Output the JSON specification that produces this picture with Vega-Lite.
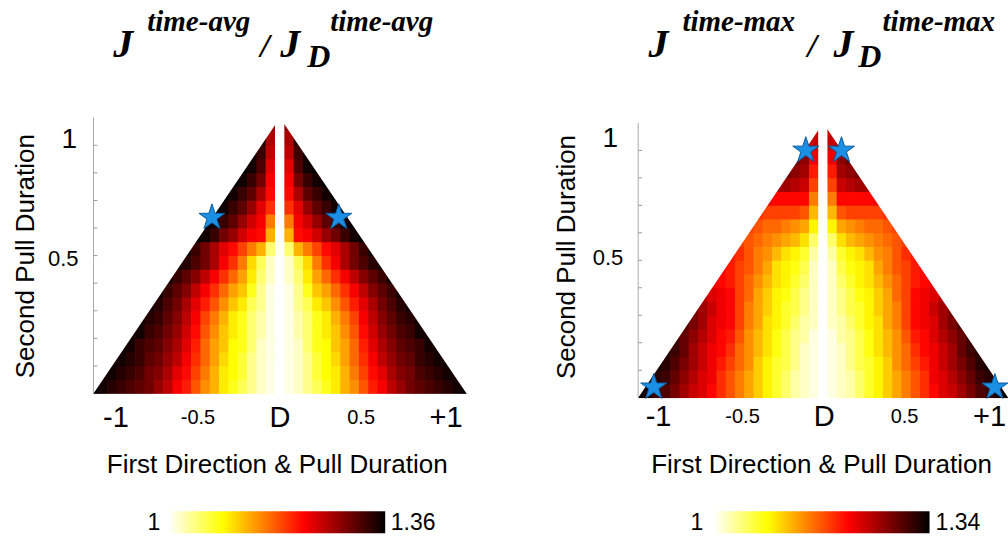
{
"$schema":"https://vega.github.io/schema/vega-lite/v6.json",
"background":"white",
"padding":{"left":12.5,"top":7.7,"right":0,"bottom":0},
"spacing":76.7,
"config":{"view":{"stroke":null},"font":"Liberation Sans","text":{"font":"Liberation Sans","color":"#000000"}},
"datasets":{
"avg":[
{"x":-1,"y":0.025,"v":1.36},{"x":-0.95,"y":0.025,"v":1.35},{"x":-0.9,"y":0.025,"v":1.34},{"x":-0.85,"y":0.025,"v":1.33},{"x":-0.8,"y":0.025,"v":1.32},{"x":-0.75,"y":0.025,"v":1.31},{"x":-0.7,"y":0.025,"v":1.3},{"x":-0.65,"y":0.025,"v":1.28},{"x":-0.6,"y":0.025,"v":1.26},{"x":-0.55,"y":0.025,"v":1.23},{"x":-0.5,"y":0.025,"v":1.21},{"x":-0.45,"y":0.025,"v":1.18},{"x":-0.4,"y":0.025,"v":1.15},{"x":-0.35,"y":0.025,"v":1.13},{"x":-0.3,"y":0.025,"v":1.1},{"x":-0.25,"y":0.025,"v":1.08},{"x":-0.2,"y":0.025,"v":1.06},{"x":-0.15,"y":0.025,"v":1.04},{"x":-0.1,"y":0.025,"v":1.02},{"x":-0.05,"y":0.025,"v":1.01},{"x":0,"y":0.025,"v":1},{"x":0.05,"y":0.025,"v":1.01},{"x":0.1,"y":0.025,"v":1.02},{"x":0.15,"y":0.025,"v":1.04},{"x":0.2,"y":0.025,"v":1.06},{"x":0.25,"y":0.025,"v":1.08},{"x":0.3,"y":0.025,"v":1.1},{"x":0.35,"y":0.025,"v":1.13},{"x":0.4,"y":0.025,"v":1.15},{"x":0.45,"y":0.025,"v":1.18},{"x":0.5,"y":0.025,"v":1.21},{"x":0.55,"y":0.025,"v":1.23},{"x":0.6,"y":0.025,"v":1.26},{"x":0.65,"y":0.025,"v":1.28},{"x":0.7,"y":0.025,"v":1.3},{"x":0.75,"y":0.025,"v":1.31},{"x":0.8,"y":0.025,"v":1.32},{"x":0.85,"y":0.025,"v":1.33},{"x":0.9,"y":0.025,"v":1.34},{"x":0.95,"y":0.025,"v":1.35},{"x":1,"y":0.025,"v":1.36},
{"x":-0.95,"y":0.075,"v":1.35},{"x":-0.9,"y":0.075,"v":1.35},{"x":-0.85,"y":0.075,"v":1.34},{"x":-0.8,"y":0.075,"v":1.33},{"x":-0.75,"y":0.075,"v":1.32},{"x":-0.7,"y":0.075,"v":1.3},{"x":-0.65,"y":0.075,"v":1.29},{"x":-0.6,"y":0.075,"v":1.27},{"x":-0.55,"y":0.075,"v":1.24},{"x":-0.5,"y":0.075,"v":1.22},{"x":-0.45,"y":0.075,"v":1.19},{"x":-0.4,"y":0.075,"v":1.16},{"x":-0.35,"y":0.075,"v":1.13},{"x":-0.3,"y":0.075,"v":1.1},{"x":-0.25,"y":0.075,"v":1.09},{"x":-0.2,"y":0.075,"v":1.07},{"x":-0.15,"y":0.075,"v":1.04},{"x":-0.1,"y":0.075,"v":1.02},{"x":-0.05,"y":0.075,"v":1.01},{"x":0,"y":0.075,"v":1},{"x":0.05,"y":0.075,"v":1.01},{"x":0.1,"y":0.075,"v":1.02},{"x":0.15,"y":0.075,"v":1.04},{"x":0.2,"y":0.075,"v":1.07},{"x":0.25,"y":0.075,"v":1.09},{"x":0.3,"y":0.075,"v":1.1},{"x":0.35,"y":0.075,"v":1.13},{"x":0.4,"y":0.075,"v":1.16},{"x":0.45,"y":0.075,"v":1.19},{"x":0.5,"y":0.075,"v":1.22},{"x":0.55,"y":0.075,"v":1.24},{"x":0.6,"y":0.075,"v":1.27},{"x":0.65,"y":0.075,"v":1.29},{"x":0.7,"y":0.075,"v":1.3},{"x":0.75,"y":0.075,"v":1.32},{"x":0.8,"y":0.075,"v":1.33},{"x":0.85,"y":0.075,"v":1.34},{"x":0.9,"y":0.075,"v":1.35},{"x":0.95,"y":0.075,"v":1.35},
{"x":-0.9,"y":0.125,"v":1.35},{"x":-0.85,"y":0.125,"v":1.35},{"x":-0.8,"y":0.125,"v":1.34},{"x":-0.75,"y":0.125,"v":1.33},{"x":-0.7,"y":0.125,"v":1.31},{"x":-0.65,"y":0.125,"v":1.3},{"x":-0.6,"y":0.125,"v":1.28},{"x":-0.55,"y":0.125,"v":1.26},{"x":-0.5,"y":0.125,"v":1.23},{"x":-0.45,"y":0.125,"v":1.2},{"x":-0.4,"y":0.125,"v":1.17},{"x":-0.35,"y":0.125,"v":1.14},{"x":-0.3,"y":0.125,"v":1.11},{"x":-0.25,"y":0.125,"v":1.09},{"x":-0.2,"y":0.125,"v":1.07},{"x":-0.15,"y":0.125,"v":1.04},{"x":-0.1,"y":0.125,"v":1.02},{"x":-0.05,"y":0.125,"v":1.01},{"x":0,"y":0.125,"v":1},{"x":0.05,"y":0.125,"v":1.01},{"x":0.1,"y":0.125,"v":1.02},{"x":0.15,"y":0.125,"v":1.04},{"x":0.2,"y":0.125,"v":1.07},{"x":0.25,"y":0.125,"v":1.09},{"x":0.3,"y":0.125,"v":1.11},{"x":0.35,"y":0.125,"v":1.14},{"x":0.4,"y":0.125,"v":1.17},{"x":0.45,"y":0.125,"v":1.2},{"x":0.5,"y":0.125,"v":1.23},{"x":0.55,"y":0.125,"v":1.26},{"x":0.6,"y":0.125,"v":1.28},{"x":0.65,"y":0.125,"v":1.3},{"x":0.7,"y":0.125,"v":1.31},{"x":0.75,"y":0.125,"v":1.33},{"x":0.8,"y":0.125,"v":1.34},{"x":0.85,"y":0.125,"v":1.35},{"x":0.9,"y":0.125,"v":1.35},
{"x":-0.85,"y":0.175,"v":1.35},{"x":-0.8,"y":0.175,"v":1.35},{"x":-0.75,"y":0.175,"v":1.33},{"x":-0.7,"y":0.175,"v":1.32},{"x":-0.65,"y":0.175,"v":1.31},{"x":-0.6,"y":0.175,"v":1.29},{"x":-0.55,"y":0.175,"v":1.27},{"x":-0.5,"y":0.175,"v":1.24},{"x":-0.45,"y":0.175,"v":1.21},{"x":-0.4,"y":0.175,"v":1.17},{"x":-0.35,"y":0.175,"v":1.14},{"x":-0.3,"y":0.175,"v":1.12},{"x":-0.25,"y":0.175,"v":1.09},{"x":-0.2,"y":0.175,"v":1.08},{"x":-0.15,"y":0.175,"v":1.05},{"x":-0.1,"y":0.175,"v":1.02},{"x":-0.05,"y":0.175,"v":1.01},{"x":0,"y":0.175,"v":1},{"x":0.05,"y":0.175,"v":1.01},{"x":0.1,"y":0.175,"v":1.02},{"x":0.15,"y":0.175,"v":1.05},{"x":0.2,"y":0.175,"v":1.08},{"x":0.25,"y":0.175,"v":1.09},{"x":0.3,"y":0.175,"v":1.12},{"x":0.35,"y":0.175,"v":1.14},{"x":0.4,"y":0.175,"v":1.17},{"x":0.45,"y":0.175,"v":1.21},{"x":0.5,"y":0.175,"v":1.24},{"x":0.55,"y":0.175,"v":1.27},{"x":0.6,"y":0.175,"v":1.29},{"x":0.65,"y":0.175,"v":1.31},{"x":0.7,"y":0.175,"v":1.32},{"x":0.75,"y":0.175,"v":1.33},{"x":0.8,"y":0.175,"v":1.35},{"x":0.85,"y":0.175,"v":1.35},
{"x":-0.8,"y":0.225,"v":1.35},{"x":-0.75,"y":0.225,"v":1.35},{"x":-0.7,"y":0.225,"v":1.33},{"x":-0.65,"y":0.225,"v":1.32},{"x":-0.6,"y":0.225,"v":1.3},{"x":-0.55,"y":0.225,"v":1.28},{"x":-0.5,"y":0.225,"v":1.25},{"x":-0.45,"y":0.225,"v":1.22},{"x":-0.4,"y":0.225,"v":1.18},{"x":-0.35,"y":0.225,"v":1.15},{"x":-0.3,"y":0.225,"v":1.12},{"x":-0.25,"y":0.225,"v":1.1},{"x":-0.2,"y":0.225,"v":1.08},{"x":-0.15,"y":0.225,"v":1.05},{"x":-0.1,"y":0.225,"v":1.03},{"x":-0.05,"y":0.225,"v":1.01},{"x":0,"y":0.225,"v":1},{"x":0.05,"y":0.225,"v":1.01},{"x":0.1,"y":0.225,"v":1.03},{"x":0.15,"y":0.225,"v":1.05},{"x":0.2,"y":0.225,"v":1.08},{"x":0.25,"y":0.225,"v":1.1},{"x":0.3,"y":0.225,"v":1.12},{"x":0.35,"y":0.225,"v":1.15},{"x":0.4,"y":0.225,"v":1.18},{"x":0.45,"y":0.225,"v":1.22},{"x":0.5,"y":0.225,"v":1.25},{"x":0.55,"y":0.225,"v":1.28},{"x":0.6,"y":0.225,"v":1.3},{"x":0.65,"y":0.225,"v":1.32},{"x":0.7,"y":0.225,"v":1.33},{"x":0.75,"y":0.225,"v":1.35},{"x":0.8,"y":0.225,"v":1.35},
{"x":-0.75,"y":0.275,"v":1.35},{"x":-0.7,"y":0.275,"v":1.34},{"x":-0.65,"y":0.275,"v":1.33},{"x":-0.6,"y":0.275,"v":1.31},{"x":-0.55,"y":0.275,"v":1.29},{"x":-0.5,"y":0.275,"v":1.26},{"x":-0.45,"y":0.275,"v":1.23},{"x":-0.4,"y":0.275,"v":1.19},{"x":-0.35,"y":0.275,"v":1.16},{"x":-0.3,"y":0.275,"v":1.13},{"x":-0.25,"y":0.275,"v":1.1},{"x":-0.2,"y":0.275,"v":1.08},{"x":-0.15,"y":0.275,"v":1.05},{"x":-0.1,"y":0.275,"v":1.03},{"x":-0.05,"y":0.275,"v":1.01},{"x":0,"y":0.275,"v":1},{"x":0.05,"y":0.275,"v":1.01},{"x":0.1,"y":0.275,"v":1.03},{"x":0.15,"y":0.275,"v":1.05},{"x":0.2,"y":0.275,"v":1.08},{"x":0.25,"y":0.275,"v":1.1},{"x":0.3,"y":0.275,"v":1.13},{"x":0.35,"y":0.275,"v":1.16},{"x":0.4,"y":0.275,"v":1.19},{"x":0.45,"y":0.275,"v":1.23},{"x":0.5,"y":0.275,"v":1.26},{"x":0.55,"y":0.275,"v":1.29},{"x":0.6,"y":0.275,"v":1.31},{"x":0.65,"y":0.275,"v":1.33},{"x":0.7,"y":0.275,"v":1.34},{"x":0.75,"y":0.275,"v":1.35},
{"x":-0.7,"y":0.325,"v":1.35},{"x":-0.65,"y":0.325,"v":1.34},{"x":-0.6,"y":0.325,"v":1.32},{"x":-0.55,"y":0.325,"v":1.3},{"x":-0.5,"y":0.325,"v":1.27},{"x":-0.45,"y":0.325,"v":1.24},{"x":-0.4,"y":0.325,"v":1.21},{"x":-0.35,"y":0.325,"v":1.18},{"x":-0.3,"y":0.325,"v":1.15},{"x":-0.25,"y":0.325,"v":1.12},{"x":-0.2,"y":0.325,"v":1.1},{"x":-0.15,"y":0.325,"v":1.06},{"x":-0.1,"y":0.325,"v":1.04},{"x":-0.05,"y":0.325,"v":1.01},{"x":0,"y":0.325,"v":1},{"x":0.05,"y":0.325,"v":1.01},{"x":0.1,"y":0.325,"v":1.04},{"x":0.15,"y":0.325,"v":1.06},{"x":0.2,"y":0.325,"v":1.1},{"x":0.25,"y":0.325,"v":1.12},{"x":0.3,"y":0.325,"v":1.15},{"x":0.35,"y":0.325,"v":1.18},{"x":0.4,"y":0.325,"v":1.21},{"x":0.45,"y":0.325,"v":1.24},{"x":0.5,"y":0.325,"v":1.27},{"x":0.55,"y":0.325,"v":1.3},{"x":0.6,"y":0.325,"v":1.32},{"x":0.65,"y":0.325,"v":1.34},{"x":0.7,"y":0.325,"v":1.35},
{"x":-0.65,"y":0.375,"v":1.35},{"x":-0.6,"y":0.375,"v":1.33},{"x":-0.55,"y":0.375,"v":1.31},{"x":-0.5,"y":0.375,"v":1.29},{"x":-0.45,"y":0.375,"v":1.26},{"x":-0.4,"y":0.375,"v":1.23},{"x":-0.35,"y":0.375,"v":1.2},{"x":-0.3,"y":0.375,"v":1.17},{"x":-0.25,"y":0.375,"v":1.14},{"x":-0.2,"y":0.375,"v":1.12},{"x":-0.15,"y":0.375,"v":1.08},{"x":-0.1,"y":0.375,"v":1.04},{"x":-0.05,"y":0.375,"v":1.01},{"x":0,"y":0.375,"v":1},{"x":0.05,"y":0.375,"v":1.01},{"x":0.1,"y":0.375,"v":1.04},{"x":0.15,"y":0.375,"v":1.08},{"x":0.2,"y":0.375,"v":1.12},{"x":0.25,"y":0.375,"v":1.14},{"x":0.3,"y":0.375,"v":1.17},{"x":0.35,"y":0.375,"v":1.2},{"x":0.4,"y":0.375,"v":1.23},{"x":0.45,"y":0.375,"v":1.26},{"x":0.5,"y":0.375,"v":1.29},{"x":0.55,"y":0.375,"v":1.31},{"x":0.6,"y":0.375,"v":1.33},{"x":0.65,"y":0.375,"v":1.35},
{"x":-0.6,"y":0.425,"v":1.35},{"x":-0.55,"y":0.425,"v":1.33},{"x":-0.5,"y":0.425,"v":1.31},{"x":-0.45,"y":0.425,"v":1.29},{"x":-0.4,"y":0.425,"v":1.26},{"x":-0.35,"y":0.425,"v":1.23},{"x":-0.3,"y":0.425,"v":1.2},{"x":-0.25,"y":0.425,"v":1.17},{"x":-0.2,"y":0.425,"v":1.14},{"x":-0.15,"y":0.425,"v":1.1},{"x":-0.1,"y":0.425,"v":1.05},{"x":-0.05,"y":0.425,"v":1.02},{"x":0,"y":0.425,"v":1},{"x":0.05,"y":0.425,"v":1.02},{"x":0.1,"y":0.425,"v":1.05},{"x":0.15,"y":0.425,"v":1.1},{"x":0.2,"y":0.425,"v":1.14},{"x":0.25,"y":0.425,"v":1.17},{"x":0.3,"y":0.425,"v":1.2},{"x":0.35,"y":0.425,"v":1.23},{"x":0.4,"y":0.425,"v":1.26},{"x":0.45,"y":0.425,"v":1.29},{"x":0.5,"y":0.425,"v":1.31},{"x":0.55,"y":0.425,"v":1.33},{"x":0.6,"y":0.425,"v":1.35},
{"x":-0.55,"y":0.475,"v":1.35},{"x":-0.5,"y":0.475,"v":1.34},{"x":-0.45,"y":0.475,"v":1.32},{"x":-0.4,"y":0.475,"v":1.3},{"x":-0.35,"y":0.475,"v":1.27},{"x":-0.3,"y":0.475,"v":1.23},{"x":-0.25,"y":0.475,"v":1.2},{"x":-0.2,"y":0.475,"v":1.16},{"x":-0.15,"y":0.475,"v":1.11},{"x":-0.1,"y":0.475,"v":1.06},{"x":-0.05,"y":0.475,"v":1.02},{"x":0,"y":0.475,"v":1},{"x":0.05,"y":0.475,"v":1.02},{"x":0.1,"y":0.475,"v":1.06},{"x":0.15,"y":0.475,"v":1.11},{"x":0.2,"y":0.475,"v":1.16},{"x":0.25,"y":0.475,"v":1.2},{"x":0.3,"y":0.475,"v":1.23},{"x":0.35,"y":0.475,"v":1.27},{"x":0.4,"y":0.475,"v":1.3},{"x":0.45,"y":0.475,"v":1.32},{"x":0.5,"y":0.475,"v":1.34},{"x":0.55,"y":0.475,"v":1.35},
{"x":-0.5,"y":0.525,"v":1.35},{"x":-0.45,"y":0.525,"v":1.33},{"x":-0.4,"y":0.525,"v":1.3},{"x":-0.35,"y":0.525,"v":1.27},{"x":-0.3,"y":0.525,"v":1.24},{"x":-0.25,"y":0.525,"v":1.22},{"x":-0.2,"y":0.525,"v":1.19},{"x":-0.15,"y":0.525,"v":1.16},{"x":-0.1,"y":0.525,"v":1.13},{"x":-0.05,"y":0.525,"v":1.05},{"x":0,"y":0.525,"v":1},{"x":0.05,"y":0.525,"v":1.05},{"x":0.1,"y":0.525,"v":1.13},{"x":0.15,"y":0.525,"v":1.16},{"x":0.2,"y":0.525,"v":1.19},{"x":0.25,"y":0.525,"v":1.22},{"x":0.3,"y":0.525,"v":1.24},{"x":0.35,"y":0.525,"v":1.27},{"x":0.4,"y":0.525,"v":1.3},{"x":0.45,"y":0.525,"v":1.33},{"x":0.5,"y":0.525,"v":1.35},
{"x":-0.45,"y":0.575,"v":1.36},{"x":-0.4,"y":0.575,"v":1.35},{"x":-0.35,"y":0.575,"v":1.33},{"x":-0.3,"y":0.575,"v":1.3},{"x":-0.25,"y":0.575,"v":1.28},{"x":-0.2,"y":0.575,"v":1.25},{"x":-0.15,"y":0.575,"v":1.23},{"x":-0.1,"y":0.575,"v":1.22},{"x":-0.05,"y":0.575,"v":1.13},{"x":0,"y":0.575,"v":1},{"x":0.05,"y":0.575,"v":1.13},{"x":0.1,"y":0.575,"v":1.22},{"x":0.15,"y":0.575,"v":1.23},{"x":0.2,"y":0.575,"v":1.25},{"x":0.25,"y":0.575,"v":1.28},{"x":0.3,"y":0.575,"v":1.3},{"x":0.35,"y":0.575,"v":1.33},{"x":0.4,"y":0.575,"v":1.35},{"x":0.45,"y":0.575,"v":1.36},
{"x":-0.4,"y":0.625,"v":1.36},{"x":-0.35,"y":0.625,"v":1.35},{"x":-0.3,"y":0.625,"v":1.33},{"x":-0.25,"y":0.625,"v":1.31},{"x":-0.2,"y":0.625,"v":1.28},{"x":-0.15,"y":0.625,"v":1.25},{"x":-0.1,"y":0.625,"v":1.23},{"x":-0.05,"y":0.625,"v":1.16},{"x":0,"y":0.625,"v":1},{"x":0.05,"y":0.625,"v":1.16},{"x":0.1,"y":0.625,"v":1.23},{"x":0.15,"y":0.625,"v":1.25},{"x":0.2,"y":0.625,"v":1.28},{"x":0.25,"y":0.625,"v":1.31},{"x":0.3,"y":0.625,"v":1.33},{"x":0.35,"y":0.625,"v":1.35},{"x":0.4,"y":0.625,"v":1.36},
{"x":-0.35,"y":0.675,"v":1.36},{"x":-0.3,"y":0.675,"v":1.35},{"x":-0.25,"y":0.675,"v":1.33},{"x":-0.2,"y":0.675,"v":1.31},{"x":-0.15,"y":0.675,"v":1.28},{"x":-0.1,"y":0.675,"v":1.24},{"x":-0.05,"y":0.675,"v":1.2},{"x":0,"y":0.675,"v":1},{"x":0.05,"y":0.675,"v":1.2},{"x":0.1,"y":0.675,"v":1.24},{"x":0.15,"y":0.675,"v":1.28},{"x":0.2,"y":0.675,"v":1.31},{"x":0.25,"y":0.675,"v":1.33},{"x":0.3,"y":0.675,"v":1.35},{"x":0.35,"y":0.675,"v":1.36},
{"x":-0.3,"y":0.725,"v":1.36},{"x":-0.25,"y":0.725,"v":1.35},{"x":-0.2,"y":0.725,"v":1.33},{"x":-0.15,"y":0.725,"v":1.31},{"x":-0.1,"y":0.725,"v":1.27},{"x":-0.05,"y":0.725,"v":1.22},{"x":0,"y":0.725,"v":1},{"x":0.05,"y":0.725,"v":1.22},{"x":0.1,"y":0.725,"v":1.27},{"x":0.15,"y":0.725,"v":1.31},{"x":0.2,"y":0.725,"v":1.33},{"x":0.25,"y":0.725,"v":1.35},{"x":0.3,"y":0.725,"v":1.36},
{"x":-0.25,"y":0.775,"v":1.36},{"x":-0.2,"y":0.775,"v":1.35},{"x":-0.15,"y":0.775,"v":1.33},{"x":-0.1,"y":0.775,"v":1.3},{"x":-0.05,"y":0.775,"v":1.23},{"x":0,"y":0.775,"v":1},{"x":0.05,"y":0.775,"v":1.23},{"x":0.1,"y":0.775,"v":1.3},{"x":0.15,"y":0.775,"v":1.33},{"x":0.2,"y":0.775,"v":1.35},{"x":0.25,"y":0.775,"v":1.36},
{"x":-0.2,"y":0.825,"v":1.36},{"x":-0.15,"y":0.825,"v":1.35},{"x":-0.1,"y":0.825,"v":1.32},{"x":-0.05,"y":0.825,"v":1.24},{"x":0,"y":0.825,"v":1},{"x":0.05,"y":0.825,"v":1.24},{"x":0.1,"y":0.825,"v":1.32},{"x":0.15,"y":0.825,"v":1.35},{"x":0.2,"y":0.825,"v":1.36},
{"x":-0.15,"y":0.875,"v":1.35},{"x":-0.1,"y":0.875,"v":1.33},{"x":-0.05,"y":0.875,"v":1.26},{"x":0,"y":0.875,"v":1},{"x":0.05,"y":0.875,"v":1.26},{"x":0.1,"y":0.875,"v":1.33},{"x":0.15,"y":0.875,"v":1.35},
{"x":-0.1,"y":0.925,"v":1.34},{"x":-0.05,"y":0.925,"v":1.27},{"x":0,"y":0.925,"v":1},{"x":0.05,"y":0.925,"v":1.27},{"x":0.1,"y":0.925,"v":1.34},
{"x":-0.05,"y":0.975,"v":1.28},{"x":0,"y":0.975,"v":1},{"x":0.05,"y":0.975,"v":1.28}
],
"tmax":[
{"x":-1,"y":0.025,"v":1.34},{"x":-0.95,"y":0.025,"v":1.33},{"x":-0.9,"y":0.025,"v":1.31},{"x":-0.85,"y":0.025,"v":1.3},{"x":-0.8,"y":0.025,"v":1.28},{"x":-0.75,"y":0.025,"v":1.26},{"x":-0.7,"y":0.025,"v":1.24},{"x":-0.65,"y":0.025,"v":1.23},{"x":-0.6,"y":0.025,"v":1.21},{"x":-0.55,"y":0.025,"v":1.19},{"x":-0.5,"y":0.025,"v":1.17},{"x":-0.45,"y":0.025,"v":1.15},{"x":-0.4,"y":0.025,"v":1.13},{"x":-0.35,"y":0.025,"v":1.11},{"x":-0.3,"y":0.025,"v":1.09},{"x":-0.25,"y":0.025,"v":1.07},{"x":-0.2,"y":0.025,"v":1.05},{"x":-0.15,"y":0.025,"v":1.03},{"x":-0.1,"y":0.025,"v":1.02},{"x":-0.05,"y":0.025,"v":1.01},{"x":0,"y":0.025,"v":1},{"x":0.05,"y":0.025,"v":1.01},{"x":0.1,"y":0.025,"v":1.02},{"x":0.15,"y":0.025,"v":1.03},{"x":0.2,"y":0.025,"v":1.05},{"x":0.25,"y":0.025,"v":1.07},{"x":0.3,"y":0.025,"v":1.09},{"x":0.35,"y":0.025,"v":1.11},{"x":0.4,"y":0.025,"v":1.13},{"x":0.45,"y":0.025,"v":1.15},{"x":0.5,"y":0.025,"v":1.17},{"x":0.55,"y":0.025,"v":1.19},{"x":0.6,"y":0.025,"v":1.21},{"x":0.65,"y":0.025,"v":1.23},{"x":0.7,"y":0.025,"v":1.24},{"x":0.75,"y":0.025,"v":1.26},{"x":0.8,"y":0.025,"v":1.28},{"x":0.85,"y":0.025,"v":1.3},{"x":0.9,"y":0.025,"v":1.31},{"x":0.95,"y":0.025,"v":1.33},{"x":1,"y":0.025,"v":1.34},
{"x":-0.95,"y":0.075,"v":1.33},{"x":-0.9,"y":0.075,"v":1.32},{"x":-0.85,"y":0.075,"v":1.31},{"x":-0.8,"y":0.075,"v":1.29},{"x":-0.75,"y":0.075,"v":1.27},{"x":-0.7,"y":0.075,"v":1.25},{"x":-0.65,"y":0.075,"v":1.23},{"x":-0.6,"y":0.075,"v":1.22},{"x":-0.55,"y":0.075,"v":1.19},{"x":-0.5,"y":0.075,"v":1.17},{"x":-0.45,"y":0.075,"v":1.15},{"x":-0.4,"y":0.075,"v":1.13},{"x":-0.35,"y":0.075,"v":1.11},{"x":-0.3,"y":0.075,"v":1.09},{"x":-0.25,"y":0.075,"v":1.07},{"x":-0.2,"y":0.075,"v":1.05},{"x":-0.15,"y":0.075,"v":1.03},{"x":-0.1,"y":0.075,"v":1.02},{"x":-0.05,"y":0.075,"v":1.01},{"x":0,"y":0.075,"v":1},{"x":0.05,"y":0.075,"v":1.01},{"x":0.1,"y":0.075,"v":1.02},{"x":0.15,"y":0.075,"v":1.03},{"x":0.2,"y":0.075,"v":1.05},{"x":0.25,"y":0.075,"v":1.07},{"x":0.3,"y":0.075,"v":1.09},{"x":0.35,"y":0.075,"v":1.11},{"x":0.4,"y":0.075,"v":1.13},{"x":0.45,"y":0.075,"v":1.15},{"x":0.5,"y":0.075,"v":1.17},{"x":0.55,"y":0.075,"v":1.19},{"x":0.6,"y":0.075,"v":1.22},{"x":0.65,"y":0.075,"v":1.23},{"x":0.7,"y":0.075,"v":1.25},{"x":0.75,"y":0.075,"v":1.27},{"x":0.8,"y":0.075,"v":1.29},{"x":0.85,"y":0.075,"v":1.31},{"x":0.9,"y":0.075,"v":1.32},{"x":0.95,"y":0.075,"v":1.33},
{"x":-0.9,"y":0.125,"v":1.33},{"x":-0.85,"y":0.125,"v":1.32},{"x":-0.8,"y":0.125,"v":1.3},{"x":-0.75,"y":0.125,"v":1.28},{"x":-0.7,"y":0.125,"v":1.26},{"x":-0.65,"y":0.125,"v":1.24},{"x":-0.6,"y":0.125,"v":1.22},{"x":-0.55,"y":0.125,"v":1.2},{"x":-0.5,"y":0.125,"v":1.18},{"x":-0.45,"y":0.125,"v":1.16},{"x":-0.4,"y":0.125,"v":1.14},{"x":-0.35,"y":0.125,"v":1.11},{"x":-0.3,"y":0.125,"v":1.09},{"x":-0.25,"y":0.125,"v":1.07},{"x":-0.2,"y":0.125,"v":1.06},{"x":-0.15,"y":0.125,"v":1.04},{"x":-0.1,"y":0.125,"v":1.02},{"x":-0.05,"y":0.125,"v":1.01},{"x":0,"y":0.125,"v":1},{"x":0.05,"y":0.125,"v":1.01},{"x":0.1,"y":0.125,"v":1.02},{"x":0.15,"y":0.125,"v":1.04},{"x":0.2,"y":0.125,"v":1.06},{"x":0.25,"y":0.125,"v":1.07},{"x":0.3,"y":0.125,"v":1.09},{"x":0.35,"y":0.125,"v":1.11},{"x":0.4,"y":0.125,"v":1.14},{"x":0.45,"y":0.125,"v":1.16},{"x":0.5,"y":0.125,"v":1.18},{"x":0.55,"y":0.125,"v":1.2},{"x":0.6,"y":0.125,"v":1.22},{"x":0.65,"y":0.125,"v":1.24},{"x":0.7,"y":0.125,"v":1.26},{"x":0.75,"y":0.125,"v":1.28},{"x":0.8,"y":0.125,"v":1.3},{"x":0.85,"y":0.125,"v":1.32},{"x":0.9,"y":0.125,"v":1.33},
{"x":-0.85,"y":0.175,"v":1.32},{"x":-0.8,"y":0.175,"v":1.31},{"x":-0.75,"y":0.175,"v":1.29},{"x":-0.7,"y":0.175,"v":1.26},{"x":-0.65,"y":0.175,"v":1.24},{"x":-0.6,"y":0.175,"v":1.22},{"x":-0.55,"y":0.175,"v":1.21},{"x":-0.5,"y":0.175,"v":1.19},{"x":-0.45,"y":0.175,"v":1.16},{"x":-0.4,"y":0.175,"v":1.14},{"x":-0.35,"y":0.175,"v":1.12},{"x":-0.3,"y":0.175,"v":1.1},{"x":-0.25,"y":0.175,"v":1.08},{"x":-0.2,"y":0.175,"v":1.06},{"x":-0.15,"y":0.175,"v":1.04},{"x":-0.1,"y":0.175,"v":1.02},{"x":-0.05,"y":0.175,"v":1.01},{"x":0,"y":0.175,"v":1},{"x":0.05,"y":0.175,"v":1.01},{"x":0.1,"y":0.175,"v":1.02},{"x":0.15,"y":0.175,"v":1.04},{"x":0.2,"y":0.175,"v":1.06},{"x":0.25,"y":0.175,"v":1.08},{"x":0.3,"y":0.175,"v":1.1},{"x":0.35,"y":0.175,"v":1.12},{"x":0.4,"y":0.175,"v":1.14},{"x":0.45,"y":0.175,"v":1.16},{"x":0.5,"y":0.175,"v":1.19},{"x":0.55,"y":0.175,"v":1.21},{"x":0.6,"y":0.175,"v":1.22},{"x":0.65,"y":0.175,"v":1.24},{"x":0.7,"y":0.175,"v":1.26},{"x":0.75,"y":0.175,"v":1.29},{"x":0.8,"y":0.175,"v":1.31},{"x":0.85,"y":0.175,"v":1.32},
{"x":-0.8,"y":0.225,"v":1.31},{"x":-0.75,"y":0.225,"v":1.29},{"x":-0.7,"y":0.225,"v":1.27},{"x":-0.65,"y":0.225,"v":1.25},{"x":-0.6,"y":0.225,"v":1.23},{"x":-0.55,"y":0.225,"v":1.21},{"x":-0.5,"y":0.225,"v":1.2},{"x":-0.45,"y":0.225,"v":1.17},{"x":-0.4,"y":0.225,"v":1.14},{"x":-0.35,"y":0.225,"v":1.12},{"x":-0.3,"y":0.225,"v":1.1},{"x":-0.25,"y":0.225,"v":1.08},{"x":-0.2,"y":0.225,"v":1.06},{"x":-0.15,"y":0.225,"v":1.04},{"x":-0.1,"y":0.225,"v":1.03},{"x":-0.05,"y":0.225,"v":1.01},{"x":0,"y":0.225,"v":1},{"x":0.05,"y":0.225,"v":1.01},{"x":0.1,"y":0.225,"v":1.03},{"x":0.15,"y":0.225,"v":1.04},{"x":0.2,"y":0.225,"v":1.06},{"x":0.25,"y":0.225,"v":1.08},{"x":0.3,"y":0.225,"v":1.1},{"x":0.35,"y":0.225,"v":1.12},{"x":0.4,"y":0.225,"v":1.14},{"x":0.45,"y":0.225,"v":1.17},{"x":0.5,"y":0.225,"v":1.2},{"x":0.55,"y":0.225,"v":1.21},{"x":0.6,"y":0.225,"v":1.23},{"x":0.65,"y":0.225,"v":1.25},{"x":0.7,"y":0.225,"v":1.27},{"x":0.75,"y":0.225,"v":1.29},{"x":0.8,"y":0.225,"v":1.31},
{"x":-0.75,"y":0.275,"v":1.3},{"x":-0.7,"y":0.275,"v":1.28},{"x":-0.65,"y":0.275,"v":1.26},{"x":-0.6,"y":0.275,"v":1.23},{"x":-0.55,"y":0.275,"v":1.22},{"x":-0.5,"y":0.275,"v":1.21},{"x":-0.45,"y":0.275,"v":1.18},{"x":-0.4,"y":0.275,"v":1.15},{"x":-0.35,"y":0.275,"v":1.13},{"x":-0.3,"y":0.275,"v":1.1},{"x":-0.25,"y":0.275,"v":1.09},{"x":-0.2,"y":0.275,"v":1.07},{"x":-0.15,"y":0.275,"v":1.05},{"x":-0.1,"y":0.275,"v":1.03},{"x":-0.05,"y":0.275,"v":1.02},{"x":0,"y":0.275,"v":1},{"x":0.05,"y":0.275,"v":1.02},{"x":0.1,"y":0.275,"v":1.03},{"x":0.15,"y":0.275,"v":1.05},{"x":0.2,"y":0.275,"v":1.07},{"x":0.25,"y":0.275,"v":1.09},{"x":0.3,"y":0.275,"v":1.1},{"x":0.35,"y":0.275,"v":1.13},{"x":0.4,"y":0.275,"v":1.15},{"x":0.45,"y":0.275,"v":1.18},{"x":0.5,"y":0.275,"v":1.21},{"x":0.55,"y":0.275,"v":1.22},{"x":0.6,"y":0.275,"v":1.23},{"x":0.65,"y":0.275,"v":1.26},{"x":0.7,"y":0.275,"v":1.28},{"x":0.75,"y":0.275,"v":1.3},
{"x":-0.7,"y":0.325,"v":1.28},{"x":-0.65,"y":0.325,"v":1.26},{"x":-0.6,"y":0.325,"v":1.24},{"x":-0.55,"y":0.325,"v":1.22},{"x":-0.5,"y":0.325,"v":1.21},{"x":-0.45,"y":0.325,"v":1.18},{"x":-0.4,"y":0.325,"v":1.15},{"x":-0.35,"y":0.325,"v":1.13},{"x":-0.3,"y":0.325,"v":1.11},{"x":-0.25,"y":0.325,"v":1.09},{"x":-0.2,"y":0.325,"v":1.07},{"x":-0.15,"y":0.325,"v":1.06},{"x":-0.1,"y":0.325,"v":1.04},{"x":-0.05,"y":0.325,"v":1.02},{"x":0,"y":0.325,"v":1},{"x":0.05,"y":0.325,"v":1.02},{"x":0.1,"y":0.325,"v":1.04},{"x":0.15,"y":0.325,"v":1.06},{"x":0.2,"y":0.325,"v":1.07},{"x":0.25,"y":0.325,"v":1.09},{"x":0.3,"y":0.325,"v":1.11},{"x":0.35,"y":0.325,"v":1.13},{"x":0.4,"y":0.325,"v":1.15},{"x":0.45,"y":0.325,"v":1.18},{"x":0.5,"y":0.325,"v":1.21},{"x":0.55,"y":0.325,"v":1.22},{"x":0.6,"y":0.325,"v":1.24},{"x":0.65,"y":0.325,"v":1.26},{"x":0.7,"y":0.325,"v":1.28},
{"x":-0.65,"y":0.375,"v":1.25},{"x":-0.6,"y":0.375,"v":1.23},{"x":-0.55,"y":0.375,"v":1.22},{"x":-0.5,"y":0.375,"v":1.21},{"x":-0.45,"y":0.375,"v":1.18},{"x":-0.4,"y":0.375,"v":1.16},{"x":-0.35,"y":0.375,"v":1.13},{"x":-0.3,"y":0.375,"v":1.11},{"x":-0.25,"y":0.375,"v":1.09},{"x":-0.2,"y":0.375,"v":1.08},{"x":-0.15,"y":0.375,"v":1.06},{"x":-0.1,"y":0.375,"v":1.04},{"x":-0.05,"y":0.375,"v":1.02},{"x":0,"y":0.375,"v":1},{"x":0.05,"y":0.375,"v":1.02},{"x":0.1,"y":0.375,"v":1.04},{"x":0.15,"y":0.375,"v":1.06},{"x":0.2,"y":0.375,"v":1.08},{"x":0.25,"y":0.375,"v":1.09},{"x":0.3,"y":0.375,"v":1.11},{"x":0.35,"y":0.375,"v":1.13},{"x":0.4,"y":0.375,"v":1.16},{"x":0.45,"y":0.375,"v":1.18},{"x":0.5,"y":0.375,"v":1.21},{"x":0.55,"y":0.375,"v":1.22},{"x":0.6,"y":0.375,"v":1.23},{"x":0.65,"y":0.375,"v":1.25},
{"x":-0.6,"y":0.425,"v":1.22},{"x":-0.55,"y":0.425,"v":1.21},{"x":-0.5,"y":0.425,"v":1.2},{"x":-0.45,"y":0.425,"v":1.18},{"x":-0.4,"y":0.425,"v":1.16},{"x":-0.35,"y":0.425,"v":1.14},{"x":-0.3,"y":0.425,"v":1.12},{"x":-0.25,"y":0.425,"v":1.1},{"x":-0.2,"y":0.425,"v":1.09},{"x":-0.15,"y":0.425,"v":1.07},{"x":-0.1,"y":0.425,"v":1.05},{"x":-0.05,"y":0.425,"v":1.02},{"x":0,"y":0.425,"v":1},{"x":0.05,"y":0.425,"v":1.02},{"x":0.1,"y":0.425,"v":1.05},{"x":0.15,"y":0.425,"v":1.07},{"x":0.2,"y":0.425,"v":1.09},{"x":0.25,"y":0.425,"v":1.1},{"x":0.3,"y":0.425,"v":1.12},{"x":0.35,"y":0.425,"v":1.14},{"x":0.4,"y":0.425,"v":1.16},{"x":0.45,"y":0.425,"v":1.18},{"x":0.5,"y":0.425,"v":1.2},{"x":0.55,"y":0.425,"v":1.21},{"x":0.6,"y":0.425,"v":1.22},
{"x":-0.55,"y":0.475,"v":1.21},{"x":-0.5,"y":0.475,"v":1.2},{"x":-0.45,"y":0.475,"v":1.18},{"x":-0.4,"y":0.475,"v":1.17},{"x":-0.35,"y":0.475,"v":1.15},{"x":-0.3,"y":0.475,"v":1.13},{"x":-0.25,"y":0.475,"v":1.1},{"x":-0.2,"y":0.475,"v":1.09},{"x":-0.15,"y":0.475,"v":1.08},{"x":-0.1,"y":0.475,"v":1.06},{"x":-0.05,"y":0.475,"v":1.02},{"x":0,"y":0.475,"v":1},{"x":0.05,"y":0.475,"v":1.02},{"x":0.1,"y":0.475,"v":1.06},{"x":0.15,"y":0.475,"v":1.08},{"x":0.2,"y":0.475,"v":1.09},{"x":0.25,"y":0.475,"v":1.1},{"x":0.3,"y":0.475,"v":1.13},{"x":0.35,"y":0.475,"v":1.15},{"x":0.4,"y":0.475,"v":1.17},{"x":0.45,"y":0.475,"v":1.18},{"x":0.5,"y":0.475,"v":1.2},{"x":0.55,"y":0.475,"v":1.21},
{"x":-0.5,"y":0.525,"v":1.2},{"x":-0.45,"y":0.525,"v":1.19},{"x":-0.4,"y":0.525,"v":1.17},{"x":-0.35,"y":0.525,"v":1.15},{"x":-0.3,"y":0.525,"v":1.14},{"x":-0.25,"y":0.525,"v":1.12},{"x":-0.2,"y":0.525,"v":1.1},{"x":-0.15,"y":0.525,"v":1.09},{"x":-0.1,"y":0.525,"v":1.07},{"x":-0.05,"y":0.525,"v":1.03},{"x":0,"y":0.525,"v":1},{"x":0.05,"y":0.525,"v":1.03},{"x":0.1,"y":0.525,"v":1.07},{"x":0.15,"y":0.525,"v":1.09},{"x":0.2,"y":0.525,"v":1.1},{"x":0.25,"y":0.525,"v":1.12},{"x":0.3,"y":0.525,"v":1.14},{"x":0.35,"y":0.525,"v":1.15},{"x":0.4,"y":0.525,"v":1.17},{"x":0.45,"y":0.525,"v":1.19},{"x":0.5,"y":0.525,"v":1.2},
{"x":-0.45,"y":0.575,"v":1.18},{"x":-0.4,"y":0.575,"v":1.17},{"x":-0.35,"y":0.575,"v":1.16},{"x":-0.3,"y":0.575,"v":1.15},{"x":-0.25,"y":0.575,"v":1.14},{"x":-0.2,"y":0.575,"v":1.13},{"x":-0.15,"y":0.575,"v":1.12},{"x":-0.1,"y":0.575,"v":1.1},{"x":-0.05,"y":0.575,"v":1.05},{"x":0,"y":0.575,"v":1},{"x":0.05,"y":0.575,"v":1.05},{"x":0.1,"y":0.575,"v":1.1},{"x":0.15,"y":0.575,"v":1.12},{"x":0.2,"y":0.575,"v":1.13},{"x":0.25,"y":0.575,"v":1.14},{"x":0.3,"y":0.575,"v":1.15},{"x":0.35,"y":0.575,"v":1.16},{"x":0.4,"y":0.575,"v":1.17},{"x":0.45,"y":0.575,"v":1.18},
{"x":-0.4,"y":0.625,"v":1.18},{"x":-0.35,"y":0.625,"v":1.17},{"x":-0.3,"y":0.625,"v":1.16},{"x":-0.25,"y":0.625,"v":1.16},{"x":-0.2,"y":0.625,"v":1.15},{"x":-0.15,"y":0.625,"v":1.14},{"x":-0.1,"y":0.625,"v":1.13},{"x":-0.05,"y":0.625,"v":1.09},{"x":0,"y":0.625,"v":1},{"x":0.05,"y":0.625,"v":1.09},{"x":0.1,"y":0.625,"v":1.13},{"x":0.15,"y":0.625,"v":1.14},{"x":0.2,"y":0.625,"v":1.15},{"x":0.25,"y":0.625,"v":1.16},{"x":0.3,"y":0.625,"v":1.16},{"x":0.35,"y":0.625,"v":1.17},{"x":0.4,"y":0.625,"v":1.18},
{"x":-0.35,"y":0.675,"v":1.19},{"x":-0.3,"y":0.675,"v":1.18},{"x":-0.25,"y":0.675,"v":1.18},{"x":-0.2,"y":0.675,"v":1.18},{"x":-0.15,"y":0.675,"v":1.18},{"x":-0.1,"y":0.675,"v":1.17},{"x":-0.05,"y":0.675,"v":1.12},{"x":0,"y":0.675,"v":1},{"x":0.05,"y":0.675,"v":1.12},{"x":0.1,"y":0.675,"v":1.17},{"x":0.15,"y":0.675,"v":1.18},{"x":0.2,"y":0.675,"v":1.18},{"x":0.25,"y":0.675,"v":1.18},{"x":0.3,"y":0.675,"v":1.18},{"x":0.35,"y":0.675,"v":1.19},
{"x":-0.3,"y":0.725,"v":1.22},{"x":-0.25,"y":0.725,"v":1.21},{"x":-0.2,"y":0.725,"v":1.21},{"x":-0.15,"y":0.725,"v":1.21},{"x":-0.1,"y":0.725,"v":1.21},{"x":-0.05,"y":0.725,"v":1.15},{"x":0,"y":0.725,"v":1},{"x":0.05,"y":0.725,"v":1.15},{"x":0.1,"y":0.725,"v":1.21},{"x":0.15,"y":0.725,"v":1.21},{"x":0.2,"y":0.725,"v":1.21},{"x":0.25,"y":0.725,"v":1.21},{"x":0.3,"y":0.725,"v":1.22},
{"x":-0.25,"y":0.775,"v":1.26},{"x":-0.2,"y":0.775,"v":1.26},{"x":-0.15,"y":0.775,"v":1.25},{"x":-0.1,"y":0.775,"v":1.24},{"x":-0.05,"y":0.775,"v":1.18},{"x":0,"y":0.775,"v":1},{"x":0.05,"y":0.775,"v":1.18},{"x":0.1,"y":0.775,"v":1.24},{"x":0.15,"y":0.775,"v":1.25},{"x":0.2,"y":0.775,"v":1.26},{"x":0.25,"y":0.775,"v":1.26},
{"x":-0.2,"y":0.825,"v":1.28},{"x":-0.15,"y":0.825,"v":1.27},{"x":-0.1,"y":0.825,"v":1.26},{"x":-0.05,"y":0.825,"v":1.2},{"x":0,"y":0.825,"v":1},{"x":0.05,"y":0.825,"v":1.2},{"x":0.1,"y":0.825,"v":1.26},{"x":0.15,"y":0.825,"v":1.27},{"x":0.2,"y":0.825,"v":1.28},
{"x":-0.15,"y":0.875,"v":1.29},{"x":-0.1,"y":0.875,"v":1.27},{"x":-0.05,"y":0.875,"v":1.22},{"x":0,"y":0.875,"v":1},{"x":0.05,"y":0.875,"v":1.22},{"x":0.1,"y":0.875,"v":1.27},{"x":0.15,"y":0.875,"v":1.29},
{"x":-0.1,"y":0.925,"v":1.29},{"x":-0.05,"y":0.925,"v":1.24},{"x":0,"y":0.925,"v":1},{"x":0.05,"y":0.925,"v":1.24},{"x":0.1,"y":0.925,"v":1.29},
{"x":-0.05,"y":0.975,"v":1.24},{"x":0,"y":0.975,"v":1},{"x":0.05,"y":0.975,"v":1.24}
],
"ticks":[{"t":0.1},{"t":0.2},{"t":0.3},{"t":0.4},{"t":0.5},{"t":0.6},{"t":0.7},{"t":0.8},{"t":0.9}]
},
"hconcat":[
{"width":373,"height":280,
"layer":[
{"data":{"name":"avg"},
"mark":{"type":"rect","width":10,"height":14.5},
"encoding":{
"x":{"field":"x","type":"quantitative","scale":{"domain":[-1,1],"nice":false,"zero":false},"axis":null},
"y":{"field":"y","type":"quantitative","scale":{"domain":[-0.0152,1],"nice":false,"zero":false},"axis":null},
"color":{"field":"v","type":"quantitative","scale":{"domain":[1,1.09,1.225,1.36],"range":["#ffffff","#ffff00","#ff0000","#000000"],"interpolate":"rgb"},"legend":null}
}},
{"data":{"values":[{"mx":-1.05,"my":-0.03},{"mx":-1,"my":0},{"mx":0,"my":1},{"mx":1,"my":0},{"mx":1.05,"my":-0.03}]},
"mark":{"type":"area","color":"#ffffff"},
"encoding":{"x":{"field":"mx","type":"quantitative","axis":null},"y":{"field":"my","type":"quantitative","axis":null},"y2":{"datum":1.02}}},
{"data":{"values":[{}]},"mark":{"type":"rule","color":"#aaaaaa","strokeWidth":1},
"encoding":{"x":{"datum":-1,"axis":null},"y":{"datum":0,"axis":null},"y2":{"datum":1}}},
{"data":{"name":"ticks"},"mark":{"type":"rule","color":"#999999","strokeWidth":1},
"encoding":{"x":{"datum":-1,"axis":null},"x2":{"datum":-0.979},"y":{"field":"t","type":"quantitative","axis":null}}},
{"data":{"values":[{"sx":-0.365,"sy":0.638},{"sx":0.315,"sy":0.638}]},
"mark":{"type":"point","shape":"M0,-1L0.2245,-0.309L0.951,-0.309L0.3633,0.118L0.588,0.809L0,0.382L-0.588,0.809L-0.3633,0.118L-0.951,-0.309L-0.2245,-0.309Z","filled":true,"size":750,"color":"#1b8fe3","stroke":"#0d5a9c","strokeWidth":1,"opacity":1},
"encoding":{"x":{"field":"sx","type":"quantitative","axis":null},"y":{"field":"sy","type":"quantitative","axis":null}}},
{"data":{"values":[{}]},"mark":{"type":"rect","fill":{"gradient":"linear","x1":0,"y1":0,"x2":1,"y2":0,"stops":[{"offset":0,"color":"#ffffff"},{"offset":0.25,"color":"#ffff00"},{"offset":0.625,"color":"#ff0000"},{"offset":1,"color":"#000000"}]}},
"encoding":{"x":{"datum":-0.598,"axis":null},"x2":{"datum":0.564},"y":{"datum":-0.427,"axis":null},"y2":{"datum":-0.5065}}},
{"data":{"values":[{}]},"mark":{"type":"text","text":"1","fontSize":23,"align":"right","baseline":"alphabetic"},"encoding":{"x":{"datum":-0.642,"axis":null},"y":{"datum":-0.4964,"axis":null}}},
{"data":{"values":[{}]},"mark":{"type":"text","text":"1.36","fontSize":23,"align":"left","baseline":"alphabetic"},"encoding":{"x":{"datum":0.5936,"axis":null},"y":{"datum":-0.4964,"axis":null}}},
{"data":{"values":[{}]},"mark":{"type":"text","text":"-1","fontSize":29,"align":"center","baseline":"alphabetic"},"encoding":{"x":{"datum":-0.88,"axis":null},"y":{"datum":-0.1204,"axis":null}}},
{"data":{"values":[{}]},"mark":{"type":"text","text":"-0.5","fontSize":20,"align":"center","baseline":"alphabetic"},"encoding":{"x":{"datum":-0.44,"axis":null},"y":{"datum":-0.1088,"axis":null}}},
{"data":{"values":[{}]},"mark":{"type":"text","text":"D","fontSize":29,"align":"center","baseline":"alphabetic"},"encoding":{"x":{"datum":0,"axis":null},"y":{"datum":-0.1204,"axis":null}}},
{"data":{"values":[{}]},"mark":{"type":"text","text":"0.5","fontSize":20,"align":"center","baseline":"alphabetic"},"encoding":{"x":{"datum":0.435,"axis":null},"y":{"datum":-0.1088,"axis":null}}},
{"data":{"values":[{}]},"mark":{"type":"text","text":"+1","fontSize":29,"align":"center","baseline":"alphabetic"},"encoding":{"x":{"datum":0.89,"axis":null},"y":{"datum":-0.1204,"axis":null}}},
{"data":{"values":[{}]},"mark":{"type":"text","text":"First Direction & Pull Duration","fontSize":26,"align":"center","baseline":"alphabetic"},"encoding":{"x":{"datum":-0.015,"axis":null},"y":{"datum":-0.289,"axis":null}}},
{"data":{"values":[{}]},"mark":{"type":"text","text":"Second Pull Duration","fontSize":26,"angle":270,"align":"center","baseline":"alphabetic"},"encoding":{"x":{"datum":-1.3217,"axis":null},"y":{"datum":0.498,"axis":null}}},
{"data":{"values":[{}]},"mark":{"type":"text","text":"1","fontSize":28,"align":"right","baseline":"alphabetic"},"encoding":{"x":{"datum":-1.088,"axis":null},"y":{"datum":0.8894,"axis":null}}},
{"data":{"values":[{}]},"mark":{"type":"text","text":"0.5","fontSize":22,"align":"right","baseline":"middle"},"encoding":{"x":{"datum":-1.0804,"axis":null},"y":{"datum":0.487,"axis":null}}},
{"data":{"values":[{}]},"mark":{"type":"text","text":"J","font":"Liberation Serif","fontStyle":"italic","fontWeight":"bold","fontSize":40,"align":"left","baseline":"alphabetic"},"encoding":{"x":{"datum":-0.894,"axis":null},"y":{"datum":1.219,"axis":null}}},
{"data":{"values":[{}]},"mark":{"type":"text","text":"time-avg","font":"Liberation Serif","fontStyle":"italic","fontWeight":"bold","fontSize":29,"align":"left","baseline":"alphabetic"},"encoding":{"x":{"datum":-0.712,"axis":null},"y":{"datum":1.314,"axis":null}}},
{"data":{"values":[{}]},"mark":{"type":"text","text":"/","font":"Liberation Serif","fontStyle":"italic","fontWeight":"bold","fontSize":34,"align":"left","baseline":"alphabetic"},"encoding":{"x":{"datum":-0.106,"axis":null},"y":{"datum":1.219,"axis":null}}},
{"data":{"values":[{}]},"mark":{"type":"text","text":"J","font":"Liberation Serif","fontStyle":"italic","fontWeight":"bold","fontSize":40,"align":"left","baseline":"alphabetic"},"encoding":{"x":{"datum":0.001,"axis":null},"y":{"datum":1.219,"axis":null}}},
{"data":{"values":[{}]},"mark":{"type":"text","text":"D","font":"Liberation Serif","fontStyle":"italic","fontWeight":"bold","fontSize":32,"align":"left","baseline":"alphabetic"},"encoding":{"x":{"datum":0.146,"axis":null},"y":{"datum":1.184,"axis":null}}},
{"data":{"values":[{}]},"mark":{"type":"text","text":"time-avg","font":"Liberation Serif","fontStyle":"italic","fontWeight":"bold","fontSize":29,"align":"left","baseline":"alphabetic"},"encoding":{"x":{"datum":0.269,"axis":null},"y":{"datum":1.314,"axis":null}}}
]},
{"width":370,"height":280,
"layer":[
{"data":{"name":"tmax"},
"mark":{"type":"rect","width":10,"height":14.5},
"encoding":{
"x":{"field":"x","type":"quantitative","scale":{"domain":[-1,1],"nice":false,"zero":false},"axis":null},
"y":{"field":"y","type":"quantitative","scale":{"domain":[0,1.0189],"nice":false,"zero":false},"axis":null},
"color":{"field":"v","type":"quantitative","scale":{"domain":[1,1.085,1.2125,1.34],"range":["#ffffff","#ffff00","#ff0000","#000000"],"interpolate":"rgb"},"legend":null}
}},
{"data":{"values":[{"mx":-1.05,"my":-0.03},{"mx":-1,"my":0},{"mx":0,"my":1},{"mx":1,"my":0},{"mx":1.05,"my":-0.03}]},
"mark":{"type":"area","color":"#ffffff"},
"encoding":{"x":{"field":"mx","type":"quantitative","axis":null},"y":{"field":"my","type":"quantitative","axis":null},"y2":{"datum":1.0189}}},
{"data":{"values":[{}]},"mark":{"type":"rule","color":"#aaaaaa","strokeWidth":1},
"encoding":{"x":{"datum":-1,"axis":null},"y":{"datum":0,"axis":null},"y2":{"datum":1}}},
{"data":{"name":"ticks"},"mark":{"type":"rule","color":"#999999","strokeWidth":1},
"encoding":{"x":{"datum":-1,"axis":null},"x2":{"datum":-0.979},"y":{"field":"t","type":"quantitative","axis":null}}},
{"data":{"values":[{"sx":-0.094,"sy":0.9},{"sx":0.099,"sy":0.9},{"sx":-0.916,"sy":0.038},{"sx":0.928,"sy":0.038}]},
"mark":{"type":"point","shape":"M0,-1L0.2245,-0.309L0.951,-0.309L0.3633,0.118L0.588,0.809L0,0.382L-0.588,0.809L-0.3633,0.118L-0.951,-0.309L-0.2245,-0.309Z","filled":true,"size":750,"color":"#1b8fe3","stroke":"#0d5a9c","strokeWidth":1,"opacity":1},
"encoding":{"x":{"field":"sx","type":"quantitative","axis":null},"y":{"field":"sy","type":"quantitative","axis":null}}},
{"data":{"values":[{}]},"mark":{"type":"rect","fill":{"gradient":"linear","x1":0,"y1":0,"x2":1,"y2":0,"stops":[{"offset":0,"color":"#ffffff"},{"offset":0.25,"color":"#ffff00"},{"offset":0.625,"color":"#ff0000"},{"offset":1,"color":"#000000"}]}},
"encoding":{"x":{"datum":-0.593,"axis":null},"x2":{"datum":0.575},"y":{"datum":-0.413,"axis":null},"y2":{"datum":-0.493}}},
{"data":{"values":[{}]},"mark":{"type":"text","text":"1","fontSize":23,"align":"right","baseline":"alphabetic"},"encoding":{"x":{"datum":-0.6486,"axis":null},"y":{"datum":-0.4829,"axis":null}}},
{"data":{"values":[{}]},"mark":{"type":"text","text":"1.34","fontSize":23,"align":"left","baseline":"alphabetic"},"encoding":{"x":{"datum":0.6076,"axis":null},"y":{"datum":-0.4829,"axis":null}}},
{"data":{"values":[{}]},"mark":{"type":"text","text":"-1","fontSize":29,"align":"center","baseline":"alphabetic"},"encoding":{"x":{"datum":-0.89,"axis":null},"y":{"datum":-0.102,"axis":null}}},
{"data":{"values":[{}]},"mark":{"type":"text","text":"-0.5","fontSize":20,"align":"center","baseline":"alphabetic"},"encoding":{"x":{"datum":-0.436,"axis":null},"y":{"datum":-0.0939,"axis":null}}},
{"data":{"values":[{}]},"mark":{"type":"text","text":"D","fontSize":29,"align":"center","baseline":"alphabetic"},"encoding":{"x":{"datum":0.005,"axis":null},"y":{"datum":-0.102,"axis":null}}},
{"data":{"values":[{}]},"mark":{"type":"text","text":"0.5","fontSize":20,"align":"center","baseline":"alphabetic"},"encoding":{"x":{"datum":0.44,"axis":null},"y":{"datum":-0.0939,"axis":null}}},
{"data":{"values":[{}]},"mark":{"type":"text","text":"+1","fontSize":29,"align":"center","baseline":"alphabetic"},"encoding":{"x":{"datum":0.899,"axis":null},"y":{"datum":-0.102,"axis":null}}},
{"data":{"values":[{}]},"mark":{"type":"text","text":"First Direction & Pull Duration","fontSize":26,"align":"center","baseline":"alphabetic"},"encoding":{"x":{"datum":-0.009,"axis":null},"y":{"datum":-0.2747,"axis":null}}},
{"data":{"values":[{}]},"mark":{"type":"text","text":"Second Pull Duration","fontSize":26,"angle":270,"align":"center","baseline":"alphabetic"},"encoding":{"x":{"datum":-1.3427,"axis":null},"y":{"datum":0.512,"axis":null}}},
{"data":{"values":[{}]},"mark":{"type":"text","text":"1","fontSize":28,"align":"right","baseline":"alphabetic"},"encoding":{"x":{"datum":-1.1086,"axis":null},"y":{"datum":0.9127,"axis":null}}},
{"data":{"values":[{}]},"mark":{"type":"text","text":"0.5","fontSize":22,"align":"right","baseline":"middle"},"encoding":{"x":{"datum":-1.081,"axis":null},"y":{"datum":0.5066,"axis":null}}},
{"data":{"values":[{}]},"mark":{"type":"text","text":"J","font":"Liberation Serif","fontStyle":"italic","fontWeight":"bold","fontSize":40,"align":"left","baseline":"alphabetic"},"encoding":{"x":{"datum":-0.944,"axis":null},"y":{"datum":1.239,"axis":null}}},
{"data":{"values":[{}]},"mark":{"type":"text","text":"time-max","font":"Liberation Serif","fontStyle":"italic","fontWeight":"bold","fontSize":29,"align":"left","baseline":"alphabetic"},"encoding":{"x":{"datum":-0.761,"axis":null},"y":{"datum":1.334,"axis":null}}},
{"data":{"values":[{}]},"mark":{"type":"text","text":"/","font":"Liberation Serif","fontStyle":"italic","fontWeight":"bold","fontSize":34,"align":"left","baseline":"alphabetic"},"encoding":{"x":{"datum":-0.085,"axis":null},"y":{"datum":1.239,"axis":null}}},
{"data":{"values":[{}]},"mark":{"type":"text","text":"J","font":"Liberation Serif","fontStyle":"italic","fontWeight":"bold","fontSize":40,"align":"left","baseline":"alphabetic"},"encoding":{"x":{"datum":0.056,"axis":null},"y":{"datum":1.239,"axis":null}}},
{"data":{"values":[{}]},"mark":{"type":"text","text":"D","font":"Liberation Serif","fontStyle":"italic","fontWeight":"bold","fontSize":32,"align":"left","baseline":"alphabetic"},"encoding":{"x":{"datum":0.19,"axis":null},"y":{"datum":1.204,"axis":null}}},
{"data":{"values":[{}]},"mark":{"type":"text","text":"time-max","font":"Liberation Serif","fontStyle":"italic","fontWeight":"bold","fontSize":29,"align":"left","baseline":"alphabetic"},"encoding":{"x":{"datum":0.32,"axis":null},"y":{"datum":1.334,"axis":null}}}
]}
],
"resolve":{"scale":{"x":"independent","y":"independent","color":"independent"}}
}
